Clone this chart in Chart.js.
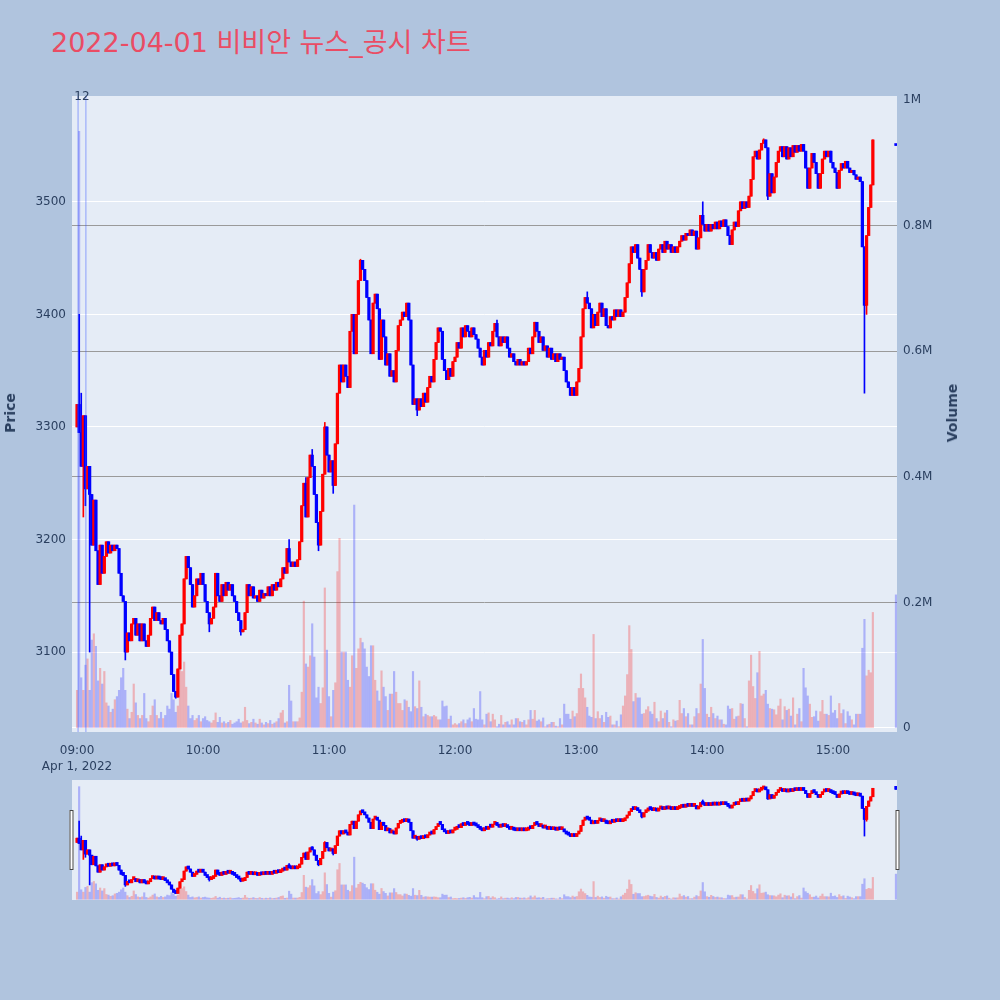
<!DOCTYPE html>
<html>
<head>
<meta charset="utf-8">
<script src="https://cdn.jsdelivr.net/npm/chart.js@4.4.1/dist/chart.umd.min.js"></script>
<style>
  body { margin: 0; background: #b0c4de; width: 1000px; height: 1000px; position: relative; overflow: hidden; font-family: "DejaVu Sans", "Noto Sans CJK KR", sans-serif; }
  #title { position: absolute; left: 51px; top: 21px; font-size: 27px; color: #ea4c64; white-space: nowrap; font-family: "DejaVu Sans", "Noto Sans CJK KR", sans-serif; }
  .axtitle { position: absolute; font-size: 14px; font-weight: bold; color: #2a3f5f; transform: translate(-50%, -50%) rotate(-90deg); white-space: nowrap; }
  #main { position: absolute; left: 0; top: 0; }
  #nav { position: absolute; left: 0; top: 770px; }
</style>
</head>
<body>
<div id="title">2022-04-01 비비안 뉴스_공시 차트</div>
<canvas id="main" width="1000" height="780"></canvas>
<canvas id="nav" width="1000" height="140"></canvas>
<div class="axtitle" style="left:10px; top:413px;">Price</div>
<div class="axtitle" style="left:952px; top:413px;">Volume</div>
<script>
// 1분봉 종가 (09:00 ~ 15:19) + 15:30 동시호가
const closes = [
  3320,3295,3265,3310,3245,3265,3240,3195,3235,3190,
  3160,3195,3170,3185,3198,3188,3195,3190,3195,3192,
  3170,3150,3145,3100,3117,3110,3125,3130,3115,3125,
  3110,3125,3110,3105,3115,3130,3140,3128,3135,3128,
  3125,3130,3120,3110,3100,3080,3065,3060,3085,3115,
  3125,3165,3185,3175,3160,3140,3150,3165,3160,3170,
  3160,3145,3135,3125,3130,3140,3170,3150,3145,3160,
  3150,3162,3155,3160,3150,3145,3135,3128,3118,3120,
  3135,3160,3150,3158,3148,3150,3145,3155,3148,3152,
  3150,3158,3150,3160,3155,3162,3158,3165,3175,3170,
  3192,3180,3176,3180,3176,3182,3198,3230,3250,3220,
  3255,3275,3265,3240,3215,3195,3225,3258,3300,3275,
  3260,3270,3248,3285,3330,3355,3340,3355,3345,3335,
  3385,3400,3365,3400,3430,3448,3440,3430,3415,3395,
  3365,3410,3418,3405,3360,3395,3380,3355,3365,3345,
  3350,3340,3368,3390,3395,3402,3398,3410,3395,3355,
  3320,3325,3315,3325,3318,3330,3322,3335,3345,3340,
  3360,3375,3388,3385,3360,3350,3342,3352,3345,3358,
  3362,3375,3370,3388,3380,3390,3385,3380,3388,3382,
  3378,3370,3362,3355,3368,3362,3375,3372,3385,3392,
  3380,3372,3380,3375,3380,3370,3362,3365,3358,3355,
  3360,3355,3358,3355,3358,3370,3365,3380,3393,3385,
  3375,3380,3368,3372,3362,3370,3360,3365,3358,3365,
  3360,3362,3350,3340,3335,3328,3335,3328,3340,3352,
  3380,3405,3415,3410,3405,3388,3400,3390,3402,3410,
  3398,3405,3390,3388,3398,3395,3404,3398,3404,3398,
  3402,3415,3428,3445,3460,3455,3462,3450,3440,3420,
  3440,3448,3462,3455,3450,3455,3448,3458,3462,3455,
  3465,3458,3462,3455,3460,3455,3460,3465,3470,3466,
  3472,3470,3475,3470,3474,3458,3468,3488,3480,3474,
  3480,3474,3480,3476,3482,3476,3483,3478,3484,3478,
  3470,3462,3475,3482,3478,3492,3500,3494,3500,3495,
  3505,3520,3540,3545,3538,3546,3552,3555,3548,3505,
  3525,3508,3522,3535,3545,3549,3540,3549,3538,3548,
  3540,3550,3544,3550,3545,3551,3545,3530,3512,3530,
  3543,3535,3525,3512,3525,3538,3545,3540,3545,3535,
  3530,3526,3512,3528,3534,3530,3536,3530,3526,3528,
  3524,3520,3522,3518,3460,3408,3470,3495,3515,3555,
  3550
];
const firstOpen = 3300;
const auctionMinute = 390;
const auctionOpen = 3550;

// 꼬리 (고가/저가)
const highIdx = [1, 2, 101, 109, 112, 118, 135, 200, 243, 298, 327];
const highVal = [3400, 3330, 3200, 3255, 3280, 3304, 3449, 3395, 3420, 3500, 3556];
const lowIdx = [3, 4, 6, 23, 47, 63, 78, 115, 122, 162, 269, 329, 375, 376];
const lowVal = [3220, 3230, 3100, 3093, 3059, 3118, 3115, 3190, 3241, 3310, 3416, 3502, 3330, 3400];

// 거래량 (천주)
const volumes = [
  60,950,80,60,100,110,60,140,150,130,
  75,95,70,90,40,35,25,30,45,50,
  60,80,95,60,30,15,25,70,40,20,
  15,20,55,15,10,20,35,45,20,15,
  25,15,20,35,30,55,45,25,35,100,
  90,105,65,35,15,20,12,15,20,10,
  15,18,12,10,8,12,24,9,17,8,
  10,7,9,12,6,8,10,14,8,10,
  33,12,7,9,14,8,6,14,8,5,
  9,7,12,6,8,10,15,24,28,8,
  10,68,43,10,10,10,16,57,202,102,
  97,115,166,113,48,65,39,64,223,124,
  50,18,60,72,249,302,121,121,121,76,
  65,115,355,95,126,143,136,126,97,82,
  131,131,76,59,43,91,65,50,28,54,
  54,90,57,39,39,28,45,43,33,26,
  90,34,31,75,33,18,22,20,18,18,
  20,18,13,13,43,34,35,14,19,5,
  7,5,7,10,13,7,13,16,10,31,
  14,13,58,13,5,22,24,10,22,13,
  2,6,20,5,9,10,5,13,5,15,
  15,10,9,12,5,13,28,14,28,11,
  13,10,16,2,5,6,9,9,3,2,
  15,5,38,22,22,14,27,18,23,63,
  86,63,48,33,19,17,149,15,26,15,
  20,9,25,17,19,5,5,11,2,21,
  35,51,85,163,125,42,55,48,48,22,
  23,29,34,26,22,41,15,10,27,15,
  24,28,9,2,13,11,12,44,23,31,
  18,23,5,5,18,31,23,70,141,63,
  22,17,33,23,15,19,13,13,6,5,
  35,30,31,14,18,19,39,38,15,2,
  75,116,66,47,88,122,51,54,60,38,
  31,30,29,21,35,46,13,34,28,30,
  19,48,5,22,31,10,95,64,51,38,
  17,18,27,11,26,44,22,22,20,51,
  24,28,15,39,23,29,7,26,19,13,
  5,22,22,22,127,173,83,92,88,184,
  212
];

// 뉴스/공시 시점 (분)
const newsMinutes = [0.5, 4.2];
const newsLabels = ['1', '2'];

const priceTicks = [3100, 3200, 3300, 3400, 3500];
const volumeTicks = [0, 200, 400, 600, 800, 1000];
const hourTicks = [0, 60, 120, 180, 240, 300, 360];
const hourLabels = ['09:00', '10:00', '11:00', '12:00', '13:00', '14:00', '15:00'];
const dateLabel = 'Apr 1, 2022';

const UP = '#ff0000', DOWN = '#0000ff';
const UP_VOL = 'rgba(255,0,0,0.25)', DOWN_VOL = 'rgba(0,0,255,0.25)';
const INK = '#2a3f5f';

const candles = closes.map((c, i) => {
    const t = i < closes.length - 1 ? i : auctionMinute;
    let o = i === 0 ? firstOpen : closes[i - 1];
    if (t === auctionMinute) o = auctionOpen;
    let h = Math.max(o, c), l = Math.min(o, c);
    const hi = highIdx.indexOf(i);
    if (hi >= 0) h = highVal[hi];
    const li = lowIdx.indexOf(i);
    if (li >= 0) l = lowVal[li];
    return { t, o, h, l, c, up: c > o };
});

function makeDatasets(bodyW, volW, minBody) {
    return [
        {
            label: 'Volume',
            yAxisID: 'yv',
            data: candles.map((k, i) => ({ x: k.t, y: volumes[i] })),
            backgroundColor: candles.map(k => k.up ? UP_VOL : DOWN_VOL),
            barThickness: volW,
            grouped: false,
            order: 3
        },
        {
            label: 'Wick',
            yAxisID: 'y',
            data: candles.map(k => ({ x: k.t, y: [k.l, k.h] })),
            backgroundColor: candles.map(k => k.up ? UP : DOWN),
            barThickness: 1,
            grouped: false,
            order: 2
        },
        {
            label: 'Body',
            yAxisID: 'y',
            data: candles.map(k => ({ x: k.t, y: [Math.min(k.o, k.c), Math.max(k.o, k.c)] })),
            backgroundColor: candles.map(k => k.up ? UP : DOWN),
            barThickness: bodyW,
            minBarLength: minBody,
            grouped: false,
            order: 1
        }
    ];
}

const plotBg = {
    id: 'plotBg',
    beforeDraw(chart) {
        const { ctx, chartArea: a } = chart;
        ctx.save();
        ctx.fillStyle = '#e5ecf6';
        ctx.fillRect(a.left, a.top, a.right - a.left, a.bottom - a.top);
        ctx.restore();
    }
};

const newsLines = {
    id: 'newsLines',
    afterDatasetsDraw(chart) {
        const { ctx, chartArea: a, scales } = chart;
        ctx.save();
        ctx.strokeStyle = 'rgba(60,90,255,0.35)';
        ctx.lineWidth = 1.5;
        ctx.fillStyle = INK;
        ctx.font = '12px "DejaVu Sans"';
        ctx.textAlign = 'center';
        ctx.textBaseline = 'middle';
        newsMinutes.forEach((m, i) => {
            const x = scales.x.getPixelForValue(m);
            ctx.beginPath();
            ctx.moveTo(x, a.top);
            ctx.lineTo(x, a.bottom);
            ctx.stroke();
            ctx.fillText(newsLabels[i], x, a.top + 1);
        });
        ctx.restore();
    }
};

const handles = {
    id: 'handles',
    afterDraw(chart) {
        const { ctx, chartArea: a } = chart;
        ctx.save();
        ctx.fillStyle = '#ffffff';
        ctx.strokeStyle = '#444444';
        ctx.lineWidth = 1;
        [a.left - 2.5, a.right - 1.5].forEach(x => {
            ctx.fillRect(x, a.top + 30, 4, 60);
            ctx.strokeRect(x + 0.5, a.top + 30.5, 3, 59);
        });
        ctx.restore();
    }
};

const tickFont = { family: 'DejaVu Sans', size: 12 };

new Chart(document.getElementById('main'), {
    type: 'bar',
    data: { datasets: makeDatasets(2.6, 1.5, 2) },
    options: {
        responsive: false,
        animation: false,
        layout: { padding: { top: 96, left: 0, right: 0, bottom: 0 } },
        plugins: { legend: { display: false }, tooltip: { enabled: false } },
        scales: {
            x: {
                type: 'linear',
                min: -2.4,
                max: 390.5,
                offset: false,
                grid: { display: false },
                border: { display: false },
                afterBuildTicks: s => { s.ticks = hourTicks.map(v => ({ value: v })); },
                afterFit: s => { s.height = 48; },
                ticks: {
                    autoSkip: false,
                    maxRotation: 0,
                    padding: 3,
                    color: INK,
                    font: { ...tickFont, lineHeight: 1.3 },
                    callback: v => {
                        const i = hourTicks.indexOf(v);
                        return i === 0 ? [hourLabels[i], dateLabel] : hourLabels[i];
                    }
                }
            },
            y: {
                position: 'left',
                min: 3029,
                max: 3594,
                grid: { color: '#ffffff', lineWidth: 1, drawTicks: false },
                border: { display: false },
                afterBuildTicks: s => { s.ticks = priceTicks.map(v => ({ value: v })); },
                afterFit: s => { s.width = 72; },
                ticks: { padding: 6, color: INK, font: tickFont, callback: v => String(v) }
            },
            yv: {
                position: 'right',
                min: -6.4,
                max: 1006.4,
                grid: {
                    color: c => {
                        const v = c.tick ? c.tick.value : -1;
                        if (v === 0) return '#ffffff';
                        if (v === 1000) return 'rgba(0,0,0,0)';
                        return '#9a9a9a';
                    },
                    lineWidth: 1,
                    drawTicks: false
                },
                border: { display: false },
                afterBuildTicks: s => { s.ticks = volumeTicks.map(v => ({ value: v })); },
                afterFit: s => { s.width = 103; },
                ticks: {
                    padding: 6,
                    color: INK,
                    font: tickFont,
                    callback: v => v === 0 ? '0' : (v / 1000) + 'M'
                }
            }
        }
    },
    plugins: [plotBg, newsLines]
});

new Chart(document.getElementById('nav'), {
    type: 'bar',
    data: { datasets: makeDatasets(2.6, 1.5, 3) },
    options: {
        responsive: false,
        animation: false,
        layout: { padding: { top: 10, left: 72, right: 103, bottom: 10 } },
        plugins: { legend: { display: false }, tooltip: { enabled: false } },
        scales: {
            x: { type: 'linear', min: -2.4, max: 390.5, offset: false, display: false },
            y: { min: 3029, max: 3594, display: false },
            yv: { min: -6.4, max: 1006.4, display: false }
        }
    },
    plugins: [plotBg, handles]
});
</script>
</body>
</html>
